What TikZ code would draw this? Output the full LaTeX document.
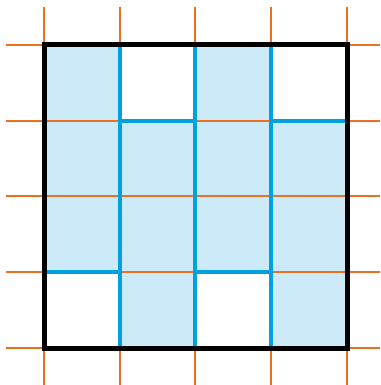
\documentclass[tikz,border=0pt]{standalone}
\definecolor{gridorange}{RGB}{236,112,36}
\definecolor{cellblue}{RGB}{204,234,247}
\definecolor{lineblue}{RGB}{0,160,227}
\begin{document}
\begin{tikzpicture}[x=1pt,y=-1pt,
  gridline/.style={draw=gridorange, line width=1.3pt},
  cellfill/.style={fill=cellblue},
  domino/.style={draw=lineblue, line width=4.5pt},
  frame/.style={draw=black, line width=5pt, line cap=rect}]
\useasboundingbox (0,0) rectangle (380,385);
% column and row positions
\def\xa{44}\def\xb{120}\def\xc{195}\def\xd{271}\def\xe{347}
\def\ya{45}\def\yb{121}\def\yc{196}\def\yd{272}\def\ye{348}
% light blue cells
\fill[cellfill] (\xa,\ya) rectangle (\xb,\yd);
\fill[cellfill] (\xb,\yb) rectangle (\xc,\ye);
\fill[cellfill] (\xc,\ya) rectangle (\xd,\yd);
\fill[cellfill] (\xd,\yb) rectangle (\xe,\ye);
% orange grid
\foreach \x in {\xa,\xb,\xc,\xd,\xe}
  \draw[gridline] (\x,7) -- (\x,385);
\foreach \y in {\ya,\yb,\yc,\yd,\ye}
  \draw[gridline] (6,\y) -- (380,\y);
% blue tromino boundaries
\foreach \x in {\xb,\xc,\xd}
  \draw[domino] (\x,\ya) -- (\x,\ye);
\draw[domino] (\xb,\yb) -- (\xc,\yb);
\draw[domino] (\xd,\yb) -- (\xe,\yb);
\draw[domino] (\xa,\yd) -- (\xb,\yd);
\draw[domino] (\xc,\yd) -- (\xd,\yd);
% outer frame
\draw[frame] (\xa,\ya) rectangle (\xe,\ye);
\end{tikzpicture}
\end{document}
